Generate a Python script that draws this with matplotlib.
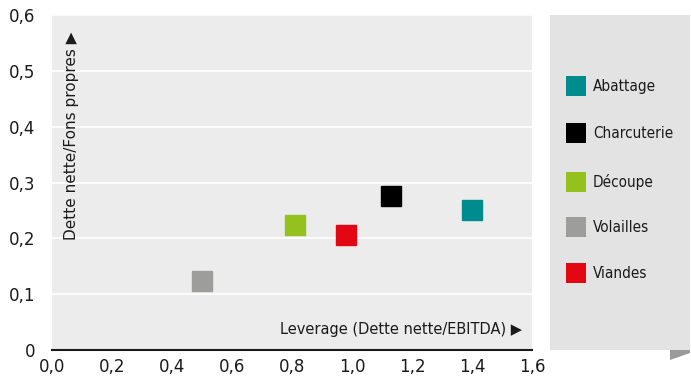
import matplotlib.pyplot as plt
from matplotlib.patches import Rectangle, Polygon

# leverage vs gearing by sector
secteurs = ["Abattage", "Charcuterie", "Découpe", "Volailles", "Viandes"]
leverage = [1.40, 1.13, 0.81, 0.50, 0.98]
gearing = [0.251, 0.276, 0.224, 0.124, 0.206]
couleurs = ["#008b8f", "#000000", "#95c11f", "#9d9d9c", "#e30613"]

x_ticks = [0.0, 0.2, 0.4, 0.6, 0.8, 1.0, 1.2, 1.4, 1.6]
y_ticks = [0, 0.1, 0.2, 0.3, 0.4, 0.5, 0.6]

W, H = 691, 385
fig = plt.figure(figsize=(W / 100, H / 100), dpi=100)
plt.rcParams['font.family'] = ['DejaVu Sans']


def fx(px):
    return px / W


def fy(py):
    return 1 - py / H


ax = fig.add_axes([fx(52), fy(350), fx(532) - fx(52), fy(15) - fy(350)])
ax.set_facecolor("#ececec")
ax.set_xlim(0, 1.6)
ax.set_ylim(0, 0.6)

for s in ["top", "right", "left"]:
    ax.spines[s].set_visible(False)
ax.spines["bottom"].set_color("#1a1a1a")
ax.spines["bottom"].set_linewidth(1.5)

ax.set_axisbelow(True)
ax.yaxis.grid(True, color="white", linewidth=1.2)
ax.tick_params(length=0, labelsize=12, colors="#1a1a1a", pad=6)
ax.set_xticks(x_ticks)
ax.set_xticklabels([f"{v:.1f}".replace(".", ",") for v in x_ticks])
ax.set_yticks(y_ticks)
ax.set_yticklabels(["0"] + [f"{v:.1f}".replace(".", ",") for v in y_ticks[1:]])
ax.tick_params(axis="y", pad=12)

for xv, yv, c in zip(leverage, gearing, couleurs):
    ax.plot(xv, yv, marker="s", markersize=14.4, color=c, linestyle="none")

# rotated text: the right-pointing triangle ends up pointing upward
ax.text(0.04, 0.95, "Dette nette/Fons propres \u25b6", transform=ax.transAxes,
        rotation=90, ha="center", va="top", fontsize=11, color="#1a1a1a")
ax.text(0.98, 0.06, "Leverage (Dette nette/EBITDA) \u25b6", transform=ax.transAxes,
        ha="right", va="center", fontsize=10.5, color="#1a1a1a")

# legend panel
fig.patches.append(Rectangle((fx(550), fy(350)), fx(690) - fx(550), fy(15) - fy(350),
                             transform=fig.transFigure, facecolor="#e3e3e3",
                             edgecolor="none", zorder=0))
fig.patches.append(Polygon([(fx(670), fy(350)), (fx(690), fy(350)),
                            (fx(690), fy(353)), (fx(670), fy(360))],
                           closed=True, transform=fig.transFigure,
                           facecolor="#9a9a9a", edgecolor="none"))

row_y = [86, 133, 182, 227, 273]
for nom, c, py in zip(secteurs, couleurs, row_y):
    fig.patches.append(Rectangle((fx(566), fy(py + 10)), fx(20), fy(0) - fy(20),
                                 transform=fig.transFigure, facecolor=c,
                                 edgecolor="none"))
    fig.text(fx(593), fy(py), nom, ha="left", va="center", fontsize=11,
             fontstretch="condensed", color="#1a1a1a")

fig.savefig("out.png", dpi=100)
